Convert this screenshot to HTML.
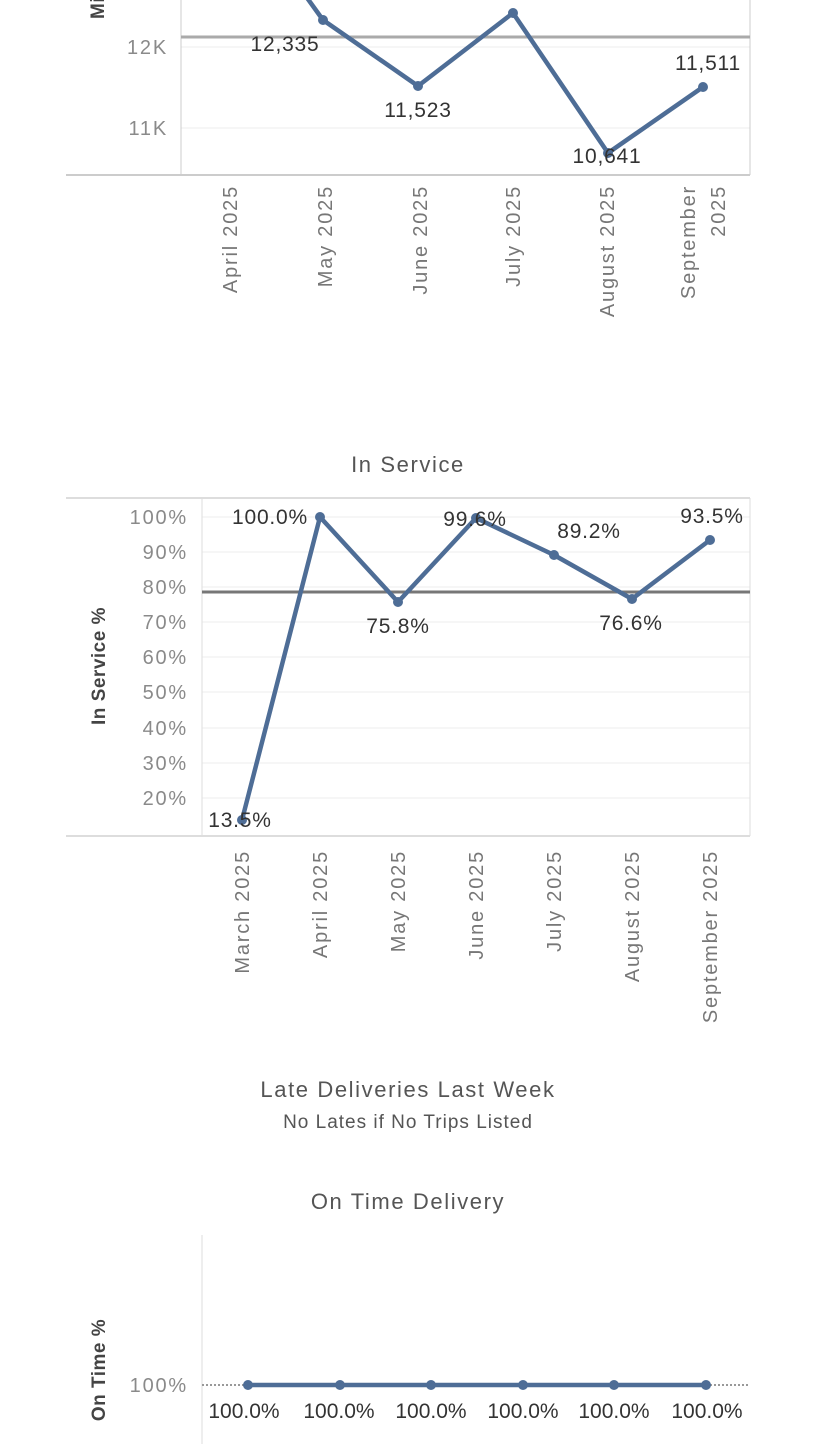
<!DOCTYPE html>
<html><head><meta charset="utf-8"><style>
html,body{margin:0;padding:0;background:#fff;}
svg{display:block;font-family:"Liberation Sans",sans-serif;}
.tk{fill:#8a8a8a;font-size:20px;letter-spacing:1.8px;}
.dl{fill:#333;font-size:21px;letter-spacing:0.8px;}
.xl{fill:#777;font-size:20px;letter-spacing:1.8px;}
.ti{fill:#555;font-size:22px;letter-spacing:1.6px;}
.at{fill:#444;font-size:19px;font-weight:bold;letter-spacing:0.5px;}
</style></head><body>
<svg width="825" height="1444" viewBox="0 0 825 1444">
<!-- Chart 1 -->
<line x1="181" y1="128" x2="750" y2="128" stroke="#eee" stroke-width="1"/>
<line x1="181" y1="47" x2="750" y2="47" stroke="#eee" stroke-width="1"/>
<line x1="181" y1="0" x2="181" y2="175" stroke="#ccc"/>
<line x1="750" y1="0" x2="750" y2="175" stroke="#ccc"/>
<line x1="66" y1="175" x2="750" y2="175" stroke="#ccc" stroke-width="2"/>
<line x1="181" y1="37" x2="750" y2="37" stroke="#aaa" stroke-width="3"/>
<text class="tk" x="168" y="54" text-anchor="end">12K</text>
<text class="tk" x="168" y="135" text-anchor="end">11K</text>
<text class="at" transform="translate(104,5) rotate(-90)" text-anchor="middle">Mil</text>
<polyline points="305,-5 323,20 418,86 513,13 608,153 703,87" fill="none" stroke="#4e6d96" stroke-width="4.5" stroke-linejoin="round"/>
<g fill="#4e6d96"><circle cx="323" cy="20" r="5"/><circle cx="418" cy="86" r="5"/><circle cx="513" cy="13" r="5"/><circle cx="608" cy="153" r="5"/><circle cx="703" cy="87" r="5"/></g>
<text class="dl" x="285" y="51" text-anchor="middle">12,335</text>
<text class="dl" x="418" y="117" text-anchor="middle">11,523</text>
<text class="dl" x="607" y="163" text-anchor="middle">10,641</text>
<text class="dl" x="708" y="70" text-anchor="middle">11,511</text>
<g class="xl" text-anchor="end">
<text transform="translate(237,185) rotate(-90)">April 2025</text>
<text transform="translate(332,185) rotate(-90)">May 2025</text>
<text transform="translate(427,185) rotate(-90)">June 2025</text>
<text transform="translate(520,185) rotate(-90)">July 2025</text>
<text transform="translate(614,185) rotate(-90)">August 2025</text>
<text transform="translate(695,185) rotate(-90)">September</text>
<text transform="translate(725,185) rotate(-90)">2025</text>
</g>
<!-- Chart 2 -->
<text class="ti" x="408" y="472" text-anchor="middle">In Service</text>
<g stroke="#eee">
<line x1="202" y1="517" x2="750" y2="517"/><line x1="202" y1="552" x2="750" y2="552"/><line x1="202" y1="587" x2="750" y2="587"/><line x1="202" y1="622" x2="750" y2="622"/><line x1="202" y1="657" x2="750" y2="657"/><line x1="202" y1="692" x2="750" y2="692"/><line x1="202" y1="728" x2="750" y2="728"/><line x1="202" y1="763" x2="750" y2="763"/><line x1="202" y1="798" x2="750" y2="798"/>
</g>
<line x1="66" y1="498" x2="750" y2="498" stroke="#ddd" stroke-width="2"/>
<line x1="66" y1="836" x2="750" y2="836" stroke="#ddd" stroke-width="2"/>
<line x1="202" y1="498" x2="202" y2="836" stroke="#ddd"/>
<line x1="750" y1="498" x2="750" y2="836" stroke="#ddd"/>
<line x1="202" y1="592" x2="750" y2="592" stroke="#777" stroke-width="3"/>
<g class="tk" text-anchor="end">
<text x="188" y="524">100%</text><text x="188" y="559">90%</text><text x="188" y="594">80%</text><text x="188" y="629">70%</text><text x="188" y="664">60%</text><text x="188" y="699">50%</text><text x="188" y="735">40%</text><text x="188" y="770">30%</text><text x="188" y="805">20%</text>
</g>
<text class="at" transform="translate(105,666) rotate(-90)" text-anchor="middle">In Service %</text>
<polyline points="242,820 320,517 398,602 476,518 554,555 632,599 710,540" fill="none" stroke="#4e6d96" stroke-width="4.5" stroke-linejoin="round"/>
<g fill="#4e6d96"><circle cx="242" cy="820" r="5"/><circle cx="320" cy="517" r="5"/><circle cx="398" cy="602" r="5"/><circle cx="476" cy="518" r="5"/><circle cx="554" cy="555" r="5"/><circle cx="632" cy="599" r="5"/><circle cx="710" cy="540" r="5"/></g>
<g class="dl" text-anchor="middle">
<text x="240" y="827">13.5%</text><text x="270" y="524">100.0%</text><text x="398" y="633">75.8%</text><text x="475" y="526">99.6%</text><text x="589" y="538">89.2%</text><text x="631" y="630">76.6%</text><text x="712" y="523">93.5%</text>
</g>
<g class="xl" text-anchor="end">
<text transform="translate(249,850) rotate(-90)">March 2025</text>
<text transform="translate(327,850) rotate(-90)">April 2025</text>
<text transform="translate(405,850) rotate(-90)">May 2025</text>
<text transform="translate(483,850) rotate(-90)">June 2025</text>
<text transform="translate(561,850) rotate(-90)">July 2025</text>
<text transform="translate(639,850) rotate(-90)">August 2025</text>
<text transform="translate(717,850) rotate(-90)">September 2025</text>
</g>
<!-- Late deliveries -->
<text class="ti" x="408" y="1097" text-anchor="middle">Late Deliveries Last Week</text>
<text x="408" y="1128" text-anchor="middle" fill="#555" font-size="19" letter-spacing="1">No Lates if No Trips Listed</text>
<!-- Chart 3 -->
<text class="ti" x="408" y="1209" text-anchor="middle">On Time Delivery</text>
<line x1="202" y1="1235" x2="202" y2="1444" stroke="#ddd"/>
<line x1="202" y1="1385" x2="750" y2="1385" stroke="#999" stroke-width="2" stroke-dasharray="2,2"/>
<text class="tk" x="188" y="1392" text-anchor="end">100%</text>
<text class="at" transform="translate(105,1370) rotate(-90)" text-anchor="middle">On Time %</text>
<line x1="248" y1="1385" x2="706" y2="1385" stroke="#4e6d96" stroke-width="4.5"/>
<g fill="#4e6d96"><circle cx="248" cy="1385" r="5"/><circle cx="340" cy="1385" r="5"/><circle cx="431" cy="1385" r="5"/><circle cx="523" cy="1385" r="5"/><circle cx="614" cy="1385" r="5"/><circle cx="706" cy="1385" r="5"/></g>
<g class="dl" text-anchor="middle" style="letter-spacing:0">
<text x="244" y="1418">100.0%</text><text x="339" y="1418">100.0%</text><text x="431" y="1418">100.0%</text><text x="523" y="1418">100.0%</text><text x="614" y="1418">100.0%</text><text x="707" y="1418">100.0%</text>
</g>
</svg>
</body></html>
